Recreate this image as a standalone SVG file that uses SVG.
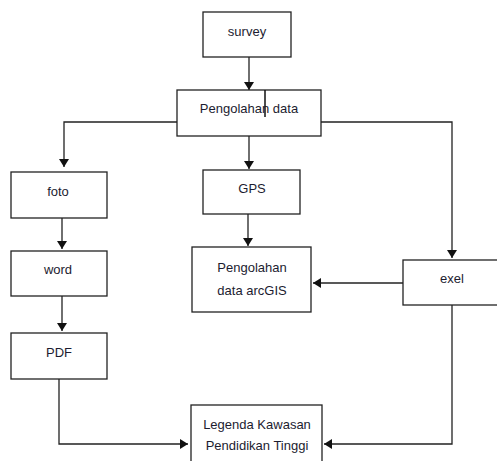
<svg xmlns="http://www.w3.org/2000/svg" width="497" height="461" viewBox="0 0 497 461">
<style>
.box{fill:#fff;stroke:#222;stroke-width:1.3}
.t{font-family:"Liberation Sans",Arial,sans-serif;font-size:13px;fill:#1c1c30;text-anchor:middle}
.c{fill:none;stroke:#222;stroke-width:1.3}
</style>
<defs>
<marker id="ah" markerWidth="8" markerHeight="10" refX="8" refY="5" orient="auto" markerUnits="userSpaceOnUse">
<path d="M0,0 L8,5 L0,10 Z" fill="#111"/>
</marker>
</defs>
<rect width="497" height="461" fill="#fff"/>
<g id="connectors">
<line class="c" x1="249" y1="57" x2="249" y2="90" marker-end="url(#ah)"/>
<polyline class="c" points="177,122 64,122 64,167" marker-end="url(#ah)"/>
<line class="c" x1="249" y1="136" x2="249" y2="169" marker-end="url(#ah)"/>
<polyline class="c" points="321,122 452,122 452,258" marker-end="url(#ah)"/>
<line class="c" x1="62" y1="218" x2="62" y2="249" marker-end="url(#ah)"/>
<line class="c" x1="62" y1="296" x2="62" y2="331" marker-end="url(#ah)"/>
<line class="c" x1="248" y1="214" x2="248" y2="246" marker-end="url(#ah)"/>
<line class="c" x1="403" y1="283" x2="313" y2="283" marker-end="url(#ah)"/>
<polyline class="c" points="59,379 59,444 188,444" marker-end="url(#ah)"/>
<polyline class="c" points="452,305 452,444 324,444" marker-end="url(#ah)"/>
</g>
<g id="survey">
<rect class="box" x="203" y="12" width="88" height="45"/>
<text class="t" x="247" y="36">survey</text>
</g>
<g id="pengolahan-data">
<rect class="box" x="177" y="90" width="144" height="46"/>
<text class="t" x="249" y="113">Pengolahan data</text>
<line x1="265" y1="90" x2="265" y2="117" stroke="#111" stroke-width="1.5"/>
</g>
<g id="foto">
<rect class="box" x="11" y="172" width="96" height="46"/>
<text class="t" x="58" y="196">foto</text>
</g>
<g id="gps">
<rect class="box" x="203" y="170" width="97" height="44"/>
<text class="t" x="252" y="193">GPS</text>
</g>
<g id="word">
<rect class="box" x="11" y="251" width="96" height="45"/>
<text class="t" x="58" y="274">word</text>
</g>
<g id="arcgis">
<rect class="box" x="192" y="247" width="119" height="65"/>
<text class="t" x="252" y="272">Pengolahan</text>
<text class="t" x="252" y="295">data arcGIS</text>
</g>
<g id="exel">
<rect class="box" x="403" y="260" width="100" height="45"/>
<text class="t" x="452" y="283">exel</text>
</g>
<g id="pdf">
<rect class="box" x="11" y="333" width="96" height="46"/>
<text class="t" x="59" y="357">PDF</text>
</g>
<g id="legenda">
<rect class="box" x="191" y="405" width="131" height="70"/>
<text class="t" x="257" y="429">Legenda Kawasan</text>
<text class="t" x="257" y="450">Pendidikan Tinggi</text>
</g>
</svg>
